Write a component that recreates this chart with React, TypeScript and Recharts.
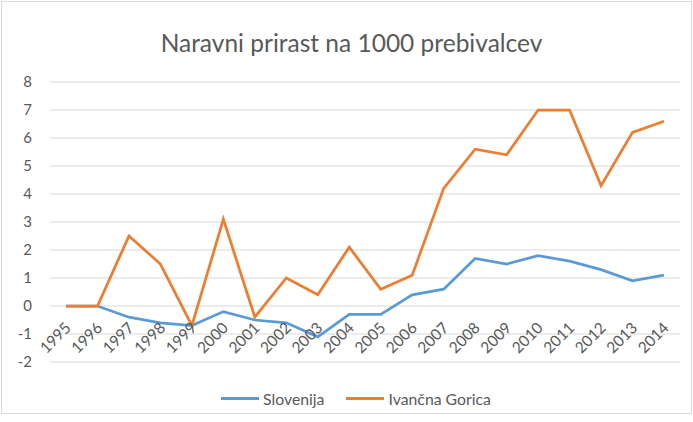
import React from 'react';
import { LineChart, Line, XAxis, YAxis, CartesianGrid, Legend } from 'recharts';

const years = ['1995', '1996', '1997', '1998', '1999', '2000', '2001', '2002', '2003', '2004', '2005', '2006', '2007', '2008', '2009', '2010', '2011', '2012', '2013', '2014'];
const slovenija = [0, 0, -0.4, -0.6, -0.7, -0.2, -0.5, -0.6, -1.1, -0.3, -0.3, 0.4, 0.6, 1.7, 1.5, 1.8, 1.6, 1.3, 0.9, 1.1];
const ivancnaGorica = [0, 0, 2.5, 1.5, -0.7, 3.1, -0.4, 1.0, 0.4, 2.1, 0.6, 1.1, 4.2, 5.6, 5.4, 7.0, 7.0, 4.3, 6.2, 6.6];
const yTicks = [-2, -1, 0, 1, 2, 3, 4, 5, 6, 7, 8];

const FONT = 'Lato, "Liberation Sans", sans-serif';
const TEXT = '#595959';
const BLUE = '#5b9bd5';
const ORANGE = '#ed7d31';

const data = years.map((year, i) => ({ year, slovenija: slovenija[i], ivancna: ivancnaGorica[i] }));

// the category labels sit on the zero line, not on the bottom of the plot
const ZERO_SHIFT = -56;

const YearTick = ({ x, y, payload }: { x?: number; y?: number; payload?: { value: string } }) => (
  <g transform={`translate(${(x ?? 0) + 3},${(y ?? 0) + ZERO_SHIFT + 12})`}>
    <text textAnchor="end" transform="rotate(-45)" fill={TEXT} fontSize={15.5} fontFamily={FONT} dy={4}>
      {payload?.value}
    </text>
  </g>
);

const LegendContent = () => (
  <div style={{ display: 'flex', justifyContent: 'center', alignItems: 'center', paddingTop: 26, paddingLeft: 32, fontFamily: FONT, fontSize: 15.8, color: TEXT }}>
    <span style={{ display: 'inline-block', width: 38, height: 3, background: BLUE, marginRight: 4 }} />
    <span style={{ marginRight: 22 }}>Slovenija</span>
    <span style={{ display: 'inline-block', width: 38, height: 3, background: ORANGE, marginRight: 4 }} />
    <span>Ivančna Gorica</span>
  </div>
);

export default function App() {
  return (
    <div style={{ position: 'absolute', left: 0, top: 0, width: 693, height: 422, background: '#fff' }}>
      <div style={{ position: 'absolute', left: 1, top: 1, width: 689, height: 411, border: '1px solid #d9d9d9' }} />
      <div style={{ position: 'absolute', left: 5, top: 28, width: 693, textAlign: 'center', fontFamily: FONT, fontSize: 24.5, color: TEXT }}>
        Naravni prirast na 1000 prebivalcev
      </div>
      <div style={{ position: 'absolute', left: 0, top: 0 }}>
        <LineChart width={693} height={422} data={data} margin={{ top: 82, right: 13, left: 0, bottom: 13 }}>
          <CartesianGrid vertical={false} stroke="#d9d9d9" strokeWidth={1} />
          <XAxis
            dataKey="year"
            axisLine={false}
            tickLine={false}
            height={1}
            interval={0}
            padding={{ left: 16, right: 16 }}
            tick={<YearTick />}
          />
          <YAxis
            domain={[-2, 8]}
            ticks={yTicks}
            width={50}
            axisLine={false}
            tickLine={false}
            tick={{ fill: TEXT, fontSize: 15, fontFamily: FONT }}
            tickMargin={12}
          />
          <Legend verticalAlign="bottom" height={46} content={<LegendContent />} />
          <Line dataKey="slovenija" name="Slovenija" stroke={BLUE} strokeWidth={2.75} dot={false} isAnimationActive={false} />
          <Line dataKey="ivancna" name="Ivančna Gorica" stroke={ORANGE} strokeWidth={2.75} dot={false} isAnimationActive={false} />
        </LineChart>
      </div>
    </div>
  );
}
